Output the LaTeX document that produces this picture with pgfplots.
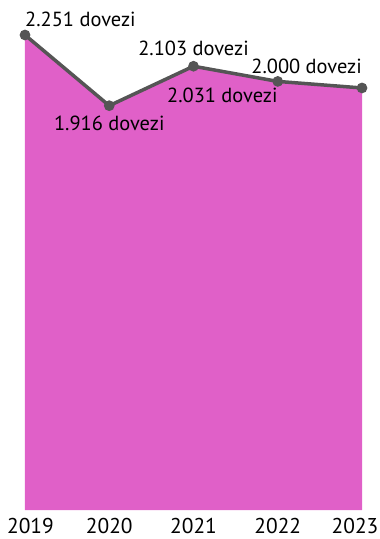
\documentclass[border=0pt]{standalone}
\usepackage{pgfplots}
\pgfplotsset{compat=1.18}
\usepackage{fontspec}
\setmainfont{PT Sans}
\definecolor{areafill}{RGB}{224,96,200}
\definecolor{linegray}{RGB}{85,85,85}
\begin{document}
\begin{tikzpicture}[x=1bp,y=1bp]
\path[use as bounding box] (-25bp,-29bp) rectangle (355bp,510bp);
\begin{axis}[
  at={(0,0)}, anchor=south west,
  scale only axis, width=337bp, height=475bp,
  xmin=2019, xmax=2023, ymin=0, ymax=2251,
  axis y line=none, axis x line*=bottom,
  x axis line style={draw=none},
  xtick={2019,2020,2021,2022,2023},
  xticklabels={\hspace*{11bp}2019,2020,2021,2022,2023\hspace*{14bp}},
  xticklabel style={font=\fontsize{21.5}{21.5}\selectfont, yshift=-5bp},
  major tick length=0pt,
  clip=false,
]
\addplot[draw=none, fill=areafill] coordinates {(2019,2251) (2020,1916) (2021,2103) (2022,2031) (2023,2000)} \closedcycle;
\addplot[linegray, line width=3.5bp, mark=*, mark size=3.5bp, mark options={fill=linegray}] coordinates {(2019,2251) (2020,1916) (2021,2103) (2022,2031) (2023,2000)};
\begin{scope}[every node/.style={font=\fontsize{20.5}{20.5}\selectfont, inner sep=0pt}]
\node[anchor=south west] at (axis cs:2019,2251) [yshift=8bp] {2.251 dovezi};
\node[anchor=north] at (axis cs:2020,1916) [yshift=-10bp] {1.916 dovezi};
\node[anchor=south] at (axis cs:2021,2103) [yshift=10bp] {2.103 dovezi};
\node[anchor=north east] at (axis cs:2022,2031) [yshift=-6bp] {2.031 dovezi};
\node[anchor=south east] at (axis cs:2023,2000) [yshift=14bp] {2.000 dovezi};
\end{scope}
\end{axis}
\end{tikzpicture}
\end{document}
